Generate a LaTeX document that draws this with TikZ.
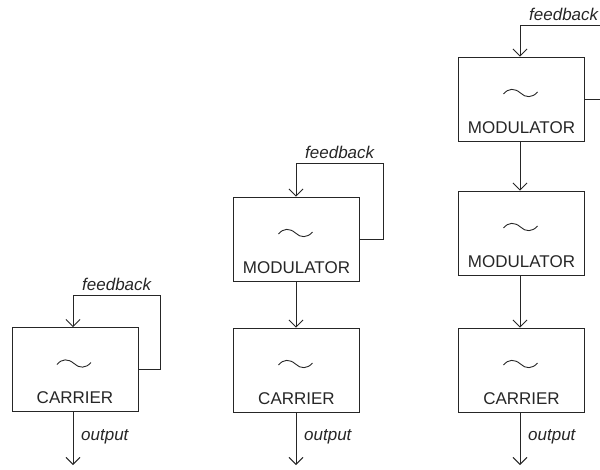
\documentclass[tikz,border=0pt]{standalone}
\usepackage{fontspec}
\setmainfont{Liberation Sans}
\usetikzlibrary{arrows.meta}
\begin{document}
\begin{tikzpicture}[x=1pt,y=-1pt,
  ln/.style={line width=0.9pt, draw=black!85},
  box/.style={ln, minimum width=126pt, minimum height=84pt, inner sep=0pt},
  lbl/.style={font=\fontsize{17}{20}\selectfont, text=black!85, inner sep=0pt},
  ilbl/.style={font=\fontsize{17}{20}\selectfont\itshape, text=black!85, inner sep=0pt},
  arr/.style={ln, -{Straight Barb[length=7pt,width=14pt]}},
  tld/.style={ln}]
\useasboundingbox (0,0) rectangle (600,469);
\clip (0,0) rectangle (600,469);
\newcommand\mytilde[1]{%
  \draw[tld,shift={(#1)}] (-17,1) .. controls (-12,-5) and (-6,-5) .. (0,0)
     .. controls (5,5) and (12,5) .. (17,-1);}
% boxes
\node[box] (c1) at (75,369.5) {};
\node[box] (m2) at (296.5,239) {};
\node[box] (c2) at (296.5,370) {};
\node[box] (m3a) at (521.5,99) {};
\node[box] (m3b) at (521.5,233) {};
\node[box] (c3) at (521.5,370) {};
% box texts
\node[lbl] (c1t) at ([yshift=14pt]c1.south) {CARRIER};
\node[lbl] (m2t) at ([yshift=14pt]m2.south) {MODULATOR};
\node[lbl] (c2t) at ([yshift=14pt]c2.south) {CARRIER};
\node[lbl] (m3at) at ([yshift=14pt]m3a.south) {MODULATOR};
\node[lbl] (m3bt) at ([yshift=14pt]m3b.south) {MODULATOR};
\node[lbl] (c3t) at ([yshift=14pt]c3.south) {CARRIER};
% tildes
\coordinate (t1) at ([xshift=-1pt,yshift=6pt]c1.center);
\coordinate (t2) at ([xshift=-1pt,yshift=6pt]m2.center);
\coordinate (t3) at ([xshift=-1pt,yshift=6pt]c2.center);
\coordinate (t4) at ([xshift=-1pt,yshift=6pt]m3a.center);
\coordinate (t5) at ([xshift=-1pt,yshift=6pt]m3b.center);
\coordinate (t6) at ([xshift=-1pt,yshift=6pt]c3.center);
\mytilde{t1}\mytilde{t2}\mytilde{t3}\mytilde{t4}\mytilde{t5}\mytilde{t6}
% arrow x positions
\coordinate (a1) at (73,0);
\coordinate (a2) at (296,0);
\coordinate (a3) at (520,0);
% feedback corners
\coordinate (k1) at (160,295);
\coordinate (k2) at (383,163);
\coordinate (k3) at (607,25);
% feedback loops
\draw[arr] (c1.east) -| (k1) -| (c1.north -| a1);
\draw[arr] (m2.east) -| (k2) -| (m2.north -| a2);
\draw[arr] (m3a.east) -| (k3) -| (m3a.north -| a3);
\node[ilbl, anchor=base west] (f1) at (82,290) {feedback};
\node[ilbl, anchor=base west] (f2) at (305,158) {feedback};
\node[ilbl, anchor=base west] (f3) at (529,20) {feedback};
% chain arrows
\draw[arr] (m2.south -| a2) -- (c2.north -| a2);
\draw[arr] (m3a.south -| a3) -- (m3b.north -| a3);
\draw[arr] (m3b.south -| a3) -- (c3.north -| a3);
% outputs
\coordinate (o1) at (73,465);
\coordinate (o2) at (296,465);
\coordinate (o3) at (520,465);
\draw[arr] (c1.south -| a1) -- (o1);
\draw[arr] (c2.south -| a2) -- (o2);
\draw[arr] (c3.south -| a3) -- (o3);
\node[ilbl, anchor=west] (out1) at (81,437) {output};
\node[ilbl, anchor=west] (out2) at (304,437) {output};
\node[ilbl, anchor=west] (out3) at (528,437) {output};
\end{tikzpicture}
\end{document}
